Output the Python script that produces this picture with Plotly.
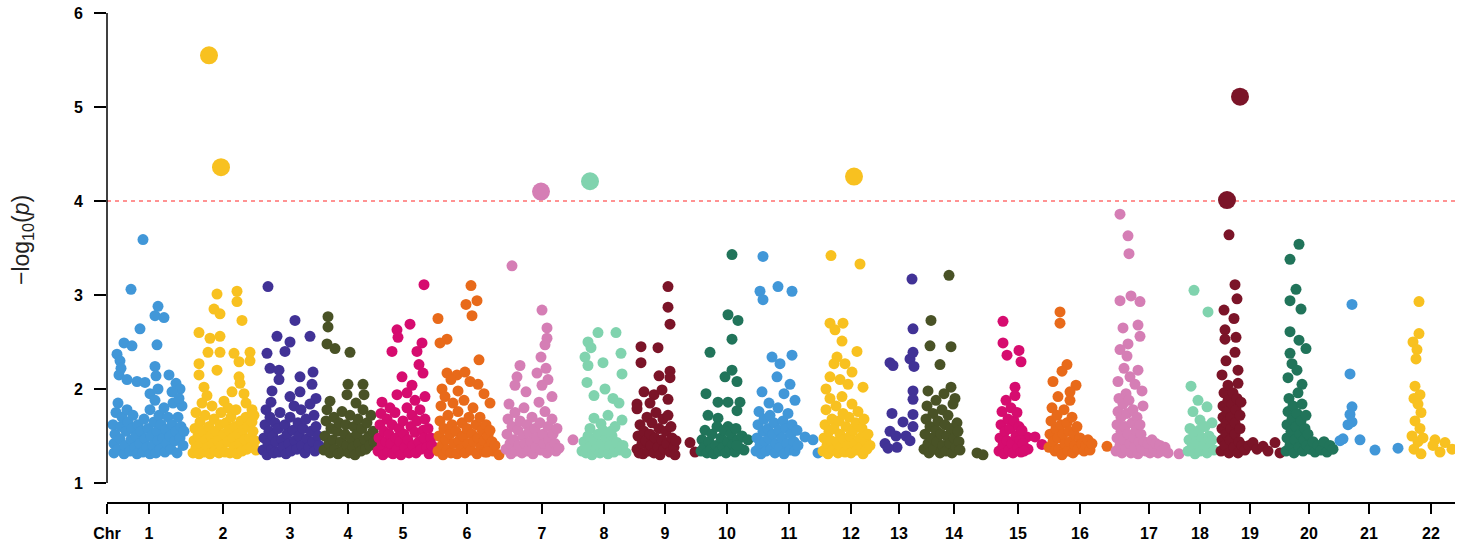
import plotly.graph_objects as go

# ---------------- data (cumulative position units, -log10 p) ----------------
chrom_labels = ["Chr"] + [str(i) for i in range(1, 23)]
chrom_centers = [107, 149, 223, 290, 348, 403, 467, 542, 604, 665, 727, 789, 851,
                 899, 954, 1018, 1080, 1149, 1200, 1250, 1309, 1369, 1431]
pos_min, pos_max = 107, 1455

palette = ["#4197D8", "#F8C120", "#413296", "#495226", "#D60C6F",
           "#E86A1A", "#D57EB5", "#80D3AE", "#7B1428", "#21745A"]

threshold = 4.0

chr1 = [(143,3.59),(131,3.06),(158,2.88),(155,2.78),(164,2.76),(140,2.64),(157,2.47),(124,2.49),(132,2.46),
        (117,2.37),(120,2.30),(121,2.22),(119,2.15),(155,2.24),(156,2.14),(169,2.15),(176,2.06),(127,2.10),
        (137,2.08),(145,2.07),(180,2.00),(172,1.97),(150,1.95),(158,2.00),
        (114,1.32),(114,1.42),(115,1.52),(113,1.62),(116,1.75),(118,1.85),(118,1.36),(120,1.47),(121,1.60),
        (122,1.70),(124,1.31),(125,1.40),(126,1.55),(127,1.78),(128,1.65),(130,1.34),(131,1.46),(132,1.58),
        (133,1.72),(135,1.38),(136,1.50),(137,1.31),(138,1.62),(140,1.42),(141,1.55),(143,1.33),(144,1.68),
        (145,1.47),(147,1.38),(148,1.58),(150,1.31),(150,1.78),(151,1.50),(153,1.40),(154,1.65),(155,1.88),
        (156,1.32),(157,1.55),(158,1.45),(159,1.72),(160,1.36),(161,1.62),(163,1.48),(164,1.80),(165,1.33),
        (166,1.57),(167,1.42),(168,1.70),(170,1.50),(171,1.36),(172,1.62),(173,1.85),(175,1.45),(176,1.55),
        (177,1.32),(178,1.70),(180,1.48),(181,1.60),(183,1.40),(184,1.55),(182,1.82),(179,1.90)]

chr2 = [(217,3.01),(237,3.04),(237,2.93),(214,2.85),(220,2.80),(242,2.73),(199,2.60),(210,2.54),(220,2.56),
        (208,2.39),(220,2.39),(234,2.38),(250,2.39),(239,2.29),(250,2.30),(199,2.27),(199,2.15),(217,2.20),
        (239,2.13),(240,2.06),(204,2.02),(207,1.93),(232,1.97),(244,1.95),(224,1.87),(246,1.85),(228,1.80),
        (252,1.78),
        (193,1.32),(194,1.45),(195,1.58),(196,1.38),(198,1.50),(199,1.31),(200,1.65),(201,1.42),(203,1.55),
        (204,1.33),(205,1.72),(206,1.46),(208,1.38),(209,1.60),(210,1.31),(211,1.50),(213,1.42),(214,1.68),
        (215,1.34),(216,1.55),(218,1.45),(219,1.32),(220,1.62),(221,1.75),(222,1.40),(224,1.52),(225,1.33),
        (226,1.64),(228,1.44),(229,1.56),(230,1.32),(231,1.70),(233,1.48),(234,1.38),(235,1.60),(236,1.78),
        (237,1.31),(238,1.52),(240,1.42),(241,1.66),(242,1.34),(243,1.56),(245,1.46),(246,1.70),(247,1.36),
        (248,1.60),(250,1.48),(251,1.38),(252,1.65),(253,1.55),(255,1.45),(256,1.35),(254,1.72),(196,1.75),
        (202,1.85),(212,1.82)]

chr3 = [(268,3.09),(295,2.73),(277,2.56),(290,2.50),(310,2.56),(267,2.38),(285,2.40),(270,2.22),(279,2.20),
        (279,2.10),(300,2.13),(313,2.18),(312,2.05),(300,1.97),(272,1.98),(316,1.90),(290,1.92),
        (263,1.35),(264,1.48),(265,1.62),(266,1.78),(267,1.30),(268,1.42),(269,1.55),(270,1.70),(271,1.86),
        (272,1.36),(273,1.50),(274,1.32),(275,1.64),(276,1.44),(278,1.58),(279,1.33),(280,1.75),(282,1.46),
        (283,1.38),(285,1.62),(286,1.31),(287,1.52),(289,1.42),(290,1.70),(291,1.34),(293,1.56),(294,1.82),
        (295,1.45),(297,1.36),(298,1.64),(299,1.50),(301,1.78),(302,1.40),(303,1.58),(305,1.32),(306,1.68),
        (307,1.47),(309,1.38),(310,1.84),(311,1.55),(313,1.44),(314,1.72),(315,1.34),(316,1.60),(318,1.50),
        (319,1.40)]

chr4 = [(328,2.77),(328,2.66),(327,2.48),(335,2.43),(350,2.39),(348,2.05),(363,2.05),(330,1.87),(347,1.94),
        (364,1.94),(356,1.85),
        (324,1.35),(325,1.50),(326,1.66),(327,1.78),(329,1.42),(330,1.32),(331,1.58),(333,1.46),(334,1.70),
        (335,1.36),(337,1.55),(338,1.31),(339,1.64),(341,1.44),(342,1.76),(343,1.34),(345,1.52),(346,1.62),
        (347,1.40),(349,1.32),(350,1.72),(351,1.48),(353,1.38),(354,1.60),(355,1.30),(357,1.52),(358,1.68),
        (359,1.42),(361,1.34),(362,1.58),(363,1.78),(365,1.46),(366,1.36),(367,1.64),(369,1.50),(370,1.40),
        (371,1.72),(373,1.55),(374,1.44)]

chr5 = [(424,3.11),(410,2.69),(397,2.63),(398,2.55),(392,2.40),(422,2.49),(417,2.40),(419,2.26),(423,2.17),
        (402,2.13),(412,2.04),(407,1.96),(382,1.86),(390,1.80),(397,1.94),(425,1.92),(415,1.88),
        (378,1.34),(379,1.48),(380,1.62),(381,1.74),(382,1.40),(383,1.30),(384,1.55),(386,1.44),(387,1.68),
        (388,1.33),(389,1.52),(391,1.42),(392,1.62),(393,1.31),(395,1.75),(396,1.48),(397,1.36),(399,1.58),
        (400,1.44),(401,1.30),(403,1.66),(404,1.52),(405,1.38),(407,1.80),(408,1.46),(409,1.32),(411,1.60),
        (412,1.72),(413,1.40),(415,1.54),(416,1.32),(417,1.66),(419,1.44),(420,1.78),(421,1.36),(423,1.56),
        (424,1.48),(425,1.68),(427,1.38),(428,1.58),(429,1.31),(431,1.48),(432,1.40)]

chr6 = [(471,3.10),(466,2.90),(477,2.94),(472,2.78),(438,2.75),(447,2.53),(440,2.49),(479,2.31),(478,2.05),
        (447,2.17),(457,2.15),(465,2.18),(451,2.10),(470,2.08),(442,2.00),(458,1.98),(484,1.95),(490,1.85),
        (438,1.34),(439,1.50),(440,1.66),(441,1.82),(442,1.40),(443,1.30),(444,1.58),(445,1.92),(446,1.46),
        (447,1.35),(448,1.72),(450,1.52),(451,1.32),(452,1.62),(453,1.85),(454,1.42),(456,1.55),(457,1.31),
        (458,1.76),(459,1.45),(461,1.36),(462,1.64),(463,1.50),(464,1.88),(465,1.32),(467,1.58),(468,1.42),
        (469,1.70),(471,1.35),(472,1.52),(473,1.80),(474,1.44),(476,1.62),(477,1.31),(478,1.48),(480,1.70),
        (481,1.38),(482,1.56),(484,1.45),(485,1.33),(486,1.62),(488,1.50),(489,1.38),(490,1.56),(492,1.44),
        (493,1.34),(495,1.40),(487,1.33),(499,1.30)]

chr7 = [(512,3.31),(542,2.84),(547,2.65),(547,2.54),(545,2.47),(541,2.34),(520,2.25),(517,2.13),(546,2.22),
        (537,2.17),(548,2.10),(515,2.04),(542,2.04),(526,1.97),(552,1.92),
        (506,1.36),(507,1.52),(508,1.68),(509,1.84),(510,1.42),(511,1.31),(512,1.60),(514,1.46),(515,1.75),
        (516,1.34),(518,1.56),(519,1.40),(520,1.66),(522,1.32),(523,1.50),(524,1.80),(525,1.42),(527,1.62),
        (528,1.34),(529,1.54),(531,1.44),(532,1.70),(533,1.31),(535,1.58),(536,1.38),(537,1.48),(539,1.86),
        (540,1.64),(541,1.35),(543,1.52),(544,1.42),(545,1.76),(547,1.32),(548,1.60),(549,1.46),(551,1.38),
        (552,1.68),(553,1.52),(555,1.42),(556,1.34),(557,1.58),(559,1.37),(573,1.46)]

chr8 = [(598,2.60),(616,2.60),(588,2.50),(591,2.44),(585,2.34),(588,2.25),(603,2.28),(621,2.38),(622,2.16),
        (587,2.07),(605,2.00),(613,1.90),(594,1.93),(619,1.85),(594,1.69),(608,1.72),(622,1.67),(601,1.63),
        (590,1.58),(615,1.60),
        (582,1.34),(584,1.44),(586,1.32),(588,1.50),(590,1.38),(592,1.30),(594,1.46),(596,1.36),(598,1.52),
        (600,1.32),(602,1.42),(604,1.34),(606,1.48),(608,1.31),(610,1.40),(612,1.50),(614,1.33),(617,1.43),
        (620,1.35),(623,1.40),(626,1.32),(603,1.56),(611,1.55)]

chr9 = [(668,3.09),(668,2.87),(670,2.69),(641,2.45),(658,2.44),(641,2.28),(670,2.19),(670,2.12),(659,2.14),
        (644,1.97),(654,1.94),(668,1.89),(637,1.84),(637,1.79),(662,1.99),(650,1.85),
        (637,1.36),(638,1.50),(639,1.32),(640,1.62),(642,1.42),(643,1.31),(644,1.55),(646,1.45),(647,1.70),
        (648,1.34),(650,1.52),(651,1.40),(652,1.64),(654,1.32),(655,1.48),(656,1.75),(658,1.38),(659,1.58),
        (660,1.30),(662,1.46),(663,1.68),(664,1.36),(666,1.55),(667,1.42),(668,1.72),(670,1.33),(671,1.60),
        (672,1.48),(674,1.38),(675,1.30),(676,1.45),(690,1.43),(695,1.33)]

chr10 = [(732,3.43),(728,2.79),(738,2.73),(732,2.53),(710,2.39),(732,2.20),(725,2.13),(737,2.08),(706,1.95),
         (718,1.86),(728,1.86),(740,1.86),(708,1.72),(718,1.69),(737,1.77),(728,1.60),
         (701,1.34),(702,1.46),(704,1.38),(705,1.56),(707,1.32),(709,1.44),(711,1.36),(712,1.52),(714,1.31),
         (716,1.40),(717,1.60),(719,1.34),(721,1.48),(723,1.38),(724,1.56),(726,1.32),(728,1.44),(730,1.36),
         (731,1.52),(733,1.41),(735,1.33),(736,1.58),(738,1.46),(740,1.37),(742,1.50),(744,1.35),(748,1.46),
         (737,1.40)]

chr11 = [(763,3.41),(778,3.09),(760,3.04),(763,2.95),(792,3.04),(772,2.34),(792,2.36),(780,2.27),(777,2.13),
         (762,1.97),(769,1.85),(790,2.05),(784,1.95),(795,1.88),
         (756,1.34),(757,1.48),(758,1.62),(759,1.76),(760,1.40),(761,1.31),(763,1.55),(764,1.68),(765,1.44),
         (766,1.34),(768,1.58),(769,1.47),(770,1.72),(771,1.36),(773,1.52),(774,1.64),(775,1.32),(776,1.42),
         (778,1.80),(779,1.56),(780,1.38),(782,1.48),(783,1.66),(784,1.31),(786,1.58),(787,1.42),(788,1.74),
         (790,1.35),(791,1.52),(792,1.62),(794,1.44),(795,1.34),(797,1.56),(798,1.40),(805,1.49),(813,1.46),
         (818,1.32)]

chr12 = [(831,3.42),(860,3.33),(830,2.70),(843,2.70),(835,2.63),(842,2.51),(837,2.34),(857,2.40),(834,2.27),
         (845,2.27),(830,2.13),(852,2.18),(863,2.02),(840,2.10),(826,2.00),(848,2.05),
         (823,1.34),(824,1.48),(825,1.62),(826,1.78),(827,1.40),(828,1.31),(829,1.55),(830,1.90),(831,1.45),
         (832,1.68),(833,1.35),(834,1.58),(836,1.82),(837,1.44),(838,1.32),(839,1.66),(840,1.52),(841,1.38),
         (842,1.92),(843,1.74),(844,1.46),(845,1.33),(846,1.60),(848,1.40),(849,1.70),(850,1.50),(851,1.32),
         (852,1.84),(853,1.56),(855,1.42),(856,1.64),(857,1.35),(858,1.76),(860,1.48),(861,1.38),(862,1.58),
         (863,1.31),(864,1.68),(866,1.44),(867,1.36),(868,1.52),(870,1.40)]

chr13 = [(912,3.17),(913,2.64),(890,2.28),(893,2.25),(910,2.32),(913,2.39),(914,2.24),(913,1.98),(913,1.89),
         (892,1.74),(903,1.65),(913,1.73),(913,1.60),(885,1.42),(896,1.50),(906,1.50),(897,1.38),(888,1.37),
         (910,1.45),(890,1.55)]

chr14 = [(949,3.21),(931,2.73),(930,2.46),(951,2.45),(940,2.26),(951,2.02),(928,1.98),(944,1.95),(955,1.90),
         (936,1.88),
         (924,1.36),(925,1.52),(926,1.68),(927,1.82),(928,1.42),(929,1.32),(930,1.60),(932,1.48),(933,1.74),
         (934,1.36),(936,1.56),(937,1.44),(938,1.66),(940,1.32),(941,1.52),(942,1.78),(943,1.40),(945,1.62),
         (946,1.34),(947,1.50),(948,1.72),(950,1.42),(951,1.58),(952,1.32),(953,1.84),(954,1.48),(956,1.38),
         (957,1.64),(958,1.55),(959,1.44),(960,1.35),(977,1.32),(983,1.30)]

chr15 = [(1003,2.72),(1003,2.49),(1007,2.36),(1019,2.41),(1021,2.29),(1015,2.02),(1015,1.93),(1027,1.49),
         (1035,1.49),(1042,1.41),(1028,1.36),
         (999,1.34),(1000,1.48),(1001,1.62),(1002,1.76),(1003,1.40),(1004,1.31),(1005,1.55),(1006,1.88),
         (1007,1.45),(1008,1.68),(1009,1.35),(1010,1.58),(1011,1.80),(1012,1.42),(1013,1.32),(1014,1.66),
         (1016,1.50),(1017,1.75),(1018,1.38),(1019,1.60),(1020,1.46),(1021,1.33),(1022,1.56),(1023,1.42),
         (1024,1.34)]

chr16 = [(1060,2.82),(1060,2.70),(1067,2.26),(1062,2.19),(1053,2.08),(1076,2.04),(1070,1.97),(1058,1.92),
         (1070,1.88),(1107,1.39),
         (1049,1.38),(1050,1.52),(1051,1.66),(1052,1.80),(1053,1.44),(1055,1.34),(1056,1.58),(1057,1.72),
         (1058,1.48),(1059,1.36),(1061,1.62),(1062,1.30),(1063,1.52),(1064,1.78),(1065,1.42),(1067,1.64),
         (1068,1.34),(1069,1.55),(1070,1.44),(1072,1.70),(1073,1.32),(1074,1.52),(1075,1.40),(1077,1.60),
         (1078,1.36),(1080,1.48),(1082,1.42),(1084,1.34),(1086,1.40),(1088,1.46),(1090,1.35),(1092,1.42)]

chr17 = [(1120,3.86),(1128,3.63),(1129,3.44),(1120,2.94),(1131,2.99),(1140,2.93),(1123,2.65),(1138,2.68),
         (1140,2.56),(1128,2.48),(1120,2.42),(1127,2.35),(1138,2.20),(1130,2.13),(1124,2.22),(1135,2.05),
         (1118,2.08),(1142,1.98),(1126,1.95),
         (1116,1.34),(1117,1.48),(1117,1.62),(1118,1.76),(1119,1.90),(1120,1.40),(1121,1.55),(1121,1.70),
         (1122,1.32),(1123,1.84),(1124,1.46),(1125,1.60),(1126,1.36),(1127,1.74),(1128,1.52),(1129,1.88),
         (1130,1.42),(1131,1.32),(1132,1.64),(1133,1.78),(1134,1.48),(1135,1.38),(1136,1.56),(1137,1.70),
         (1138,1.31),(1139,1.44),(1140,1.62),(1141,1.52),(1142,1.36),(1143,1.82),(1144,1.44),(1146,1.34),
         (1148,1.42),(1150,1.32),(1152,1.46),(1154,1.36),(1156,1.42),(1158,1.32),(1160,1.40),(1162,1.34),
         (1165,1.38),(1168,1.32),(1179,1.31)]

chr18 = [(1194,3.05),(1208,2.82),(1191,2.03),(1198,1.88),(1207,1.81),(1193,1.76),(1200,1.67),(1212,1.64),
         (1188,1.34),(1189,1.46),(1190,1.58),(1192,1.38),(1194,1.52),(1195,1.31),(1197,1.44),(1199,1.56),
         (1200,1.34),(1202,1.48),(1204,1.40),(1205,1.60),(1207,1.32),(1209,1.50),(1210,1.38),(1212,1.46),
         (1214,1.35)]

chr19 = [(1229,3.64),(1235,3.11),(1237,2.96),(1224,2.84),(1234,2.75),(1225,2.63),(1236,2.55),(1225,2.53),
         (1235,2.39),(1226,2.30),(1238,2.20),(1222,2.15),
         (1221,1.34),(1222,1.46),(1222,1.58),(1223,1.70),(1223,1.82),(1224,1.96),(1225,1.40),(1226,1.52),
         (1226,1.64),(1227,1.76),(1228,1.88),(1228,2.04),(1229,1.32),(1230,1.46),(1231,1.58),(1231,1.70),
         (1232,1.84),(1233,1.96),(1234,1.38),(1235,1.52),(1235,1.64),(1236,1.78),(1237,1.90),(1238,2.06),
         (1238,1.32),(1239,1.44),(1240,1.58),(1240,1.72),(1241,1.86),(1242,1.40),(1245,1.35),(1249,1.40),
         (1253,1.43),(1257,1.36),(1263,1.39),(1268,1.34),(1275,1.43),(1280,1.32)]

chr20 = [(1299,3.54),(1290,3.38),(1296,3.06),(1290,2.94),(1301,2.85),(1290,2.61),(1299,2.52),(1306,2.43),
         (1290,2.38),(1292,2.27),(1297,2.20),(1288,2.12),(1302,2.05),
         (1286,1.34),(1287,1.48),(1287,1.62),(1288,1.76),(1289,1.90),(1290,1.40),(1291,1.55),(1292,1.68),
         (1293,1.82),(1294,1.32),(1295,1.46),(1296,1.60),(1297,1.74),(1298,1.96),(1299,1.38),(1300,1.52),
         (1301,1.66),(1302,1.84),(1303,1.34),(1304,1.46),(1305,1.58),(1306,1.72),(1307,1.40),(1308,1.52),
         (1310,1.36),(1313,1.44),(1315,1.33),(1318,1.40),(1321,1.35),(1324,1.44),(1327,1.33),(1330,1.40),
         (1333,1.36)]

chr21 = [(1352,2.90),(1350,2.16),(1352,1.81),(1350,1.73),(1352,1.65),(1348,1.62),(1343,1.47),(1340,1.45),
         (1360,1.46),(1375,1.35),(1398,1.37)]

chr22 = [(1419,2.93),(1419,2.59),(1413,2.50),(1417,2.42),(1416,2.32),(1415,2.03),(1420,1.94),(1421,1.75),
         (1414,1.90),(1418,1.84),(1415,1.66),(1420,1.58),(1412,1.50),(1418,1.44),(1414,1.36),(1421,1.31),
         (1423,1.48),(1435,1.46),(1445,1.43),(1452,1.36),(1433,1.40),(1440,1.33)]

# top (suggestive) hits drawn larger
sig_chr = [2, 2, 7, 8, 12, 19, 19]
sig_pos = [209, 221, 541, 590, 854, 1227, 1240]
sig_logp = [5.55, 4.36, 4.10, 4.21, 4.26, 4.01, 5.11]

chromosomes = [chr1, chr2, chr3, chr4, chr5, chr6, chr7, chr8, chr9, chr10, chr11,
               chr12, chr13, chr14, chr15, chr16, chr17, chr18, chr19, chr20, chr21, chr22]

# ---------------- figure ----------------
fig = go.Figure()
for i, pts in enumerate(chromosomes):
    fig.add_trace(go.Scatter(
        x=[p[0] for p in pts], y=[p[1] for p in pts], mode="markers",
        marker=dict(size=11, color=palette[i % 10], line=dict(width=0)),
        name=f"Chr{i+1}", showlegend=False, hoverinfo="skip"))

fig.add_trace(go.Scatter(
    x=sig_pos, y=sig_logp, mode="markers",
    marker=dict(size=18, color=[palette[(c - 1) % 10] for c in sig_chr], line=dict(width=0)),
    showlegend=False, hoverinfo="skip"))

# threshold line
fig.add_shape(type="line", xref="paper", x0=0, x1=1, yref="y", y0=threshold, y1=threshold,
              line=dict(color="#FF6F6F", width=1.5, dash="4px,4px"), layer="below")
# y axis line spanning only the tick range (R style)
fig.add_shape(type="line", xref="paper", x0=0, x1=0, yref="y", y0=1, y1=6,
              line=dict(color="black", width=1.5))

fig.add_annotation(text="\u2212log<sub>10</sub>(<i>p</i>)", xref="paper", yref="paper",
                   x=(22 - 107) / 1348, y=(502 - 240) / 489, textangle=-90, showarrow=False,
                   font=dict(size=23, color="#222222", family="Liberation Sans, Arial"),
                   xanchor="center", yanchor="middle")

tickfont = dict(family="Liberation Sans, Arial", size=16, color="black", weight="bold")
fig.update_layout(
    width=1471, height=549,
    margin=dict(l=107, r=16, t=13, b=47, autoexpand=False),
    plot_bgcolor="white", paper_bgcolor="white",
    xaxis=dict(range=[pos_min, pos_max], tickvals=chrom_centers, ticktext=chrom_labels,
               showline=True, linecolor="black", linewidth=1.5, ticks="outside",
               ticklen=10, tickwidth=1.5, tickcolor="black", showgrid=False, zeroline=False,
               tickfont=tickfont, ticklabelstandoff=6, automargin=False),
    yaxis=dict(range=[0.798, 6], tickvals=[1, 2, 3, 4, 5, 6], ticktext=["1", "2", "3", "4", "5", "6"],
               showline=False, ticks="outside", ticklen=12, tickwidth=1.5, tickcolor="black",
               showgrid=False, zeroline=False, tickfont=tickfont, ticklabelstandoff=8,
               automargin=False),
)

fig.write_html("out.html")
